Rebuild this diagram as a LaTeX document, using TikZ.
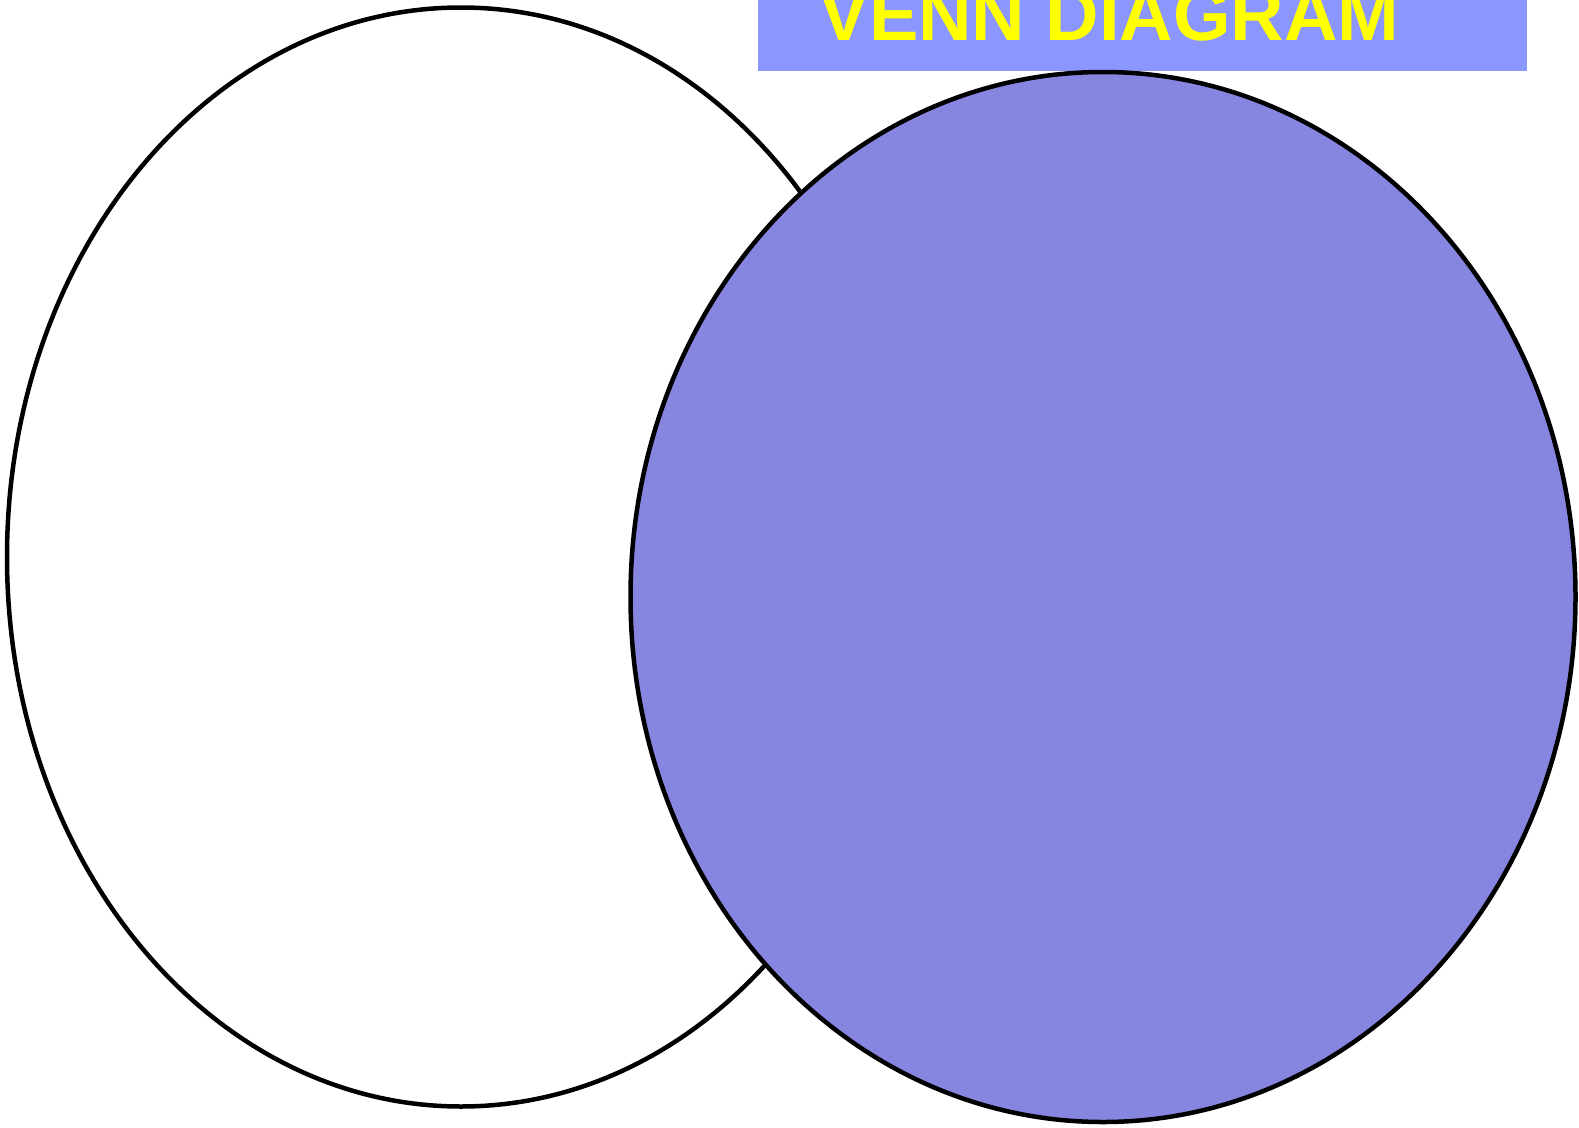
\documentclass[tikz,border=0pt]{standalone}
\usepackage{fontspec}
\setmainfont{Liberation Sans}
\usetikzlibrary{shapes.geometric}
\definecolor{titlebg}{RGB}{140,150,255}
\definecolor{setfill}{RGB}{134,134,224}
\definecolor{titletext}{RGB}{255,255,0}
\begin{document}
\begin{tikzpicture}[x=1pt,y=-1pt,
  setshape/.style={ellipse,draw=black,line width=4.5pt,inner sep=0pt,outer sep=0pt},
  titlebox/.style={rectangle,fill=titlebg,inner sep=0pt,outer sep=0pt},
  titlelabel/.style={text=titletext,font=\bfseries\fontsize{74}{74}\selectfont,inner sep=0pt,anchor=base}]
\useasboundingbox (0,0) rectangle (1579,1127);
\clip (0,0) rectangle (1579,1127);
\node[titlebox,minimum width=769pt,minimum height=70.5pt] (title) at (1142.5,35.25) {};
\node[titlelabel] (titletext) at (1109.5,40.5) {VENN DIAGRAM};
\node[setshape,fill=white,minimum width=908pt,minimum height=1099pt] (setA) at (461,557) {};
\node[setshape,fill=setfill,minimum width=945pt,minimum height=1050pt] (setB) at (1103,597) {};
\end{tikzpicture}
\end{document}
